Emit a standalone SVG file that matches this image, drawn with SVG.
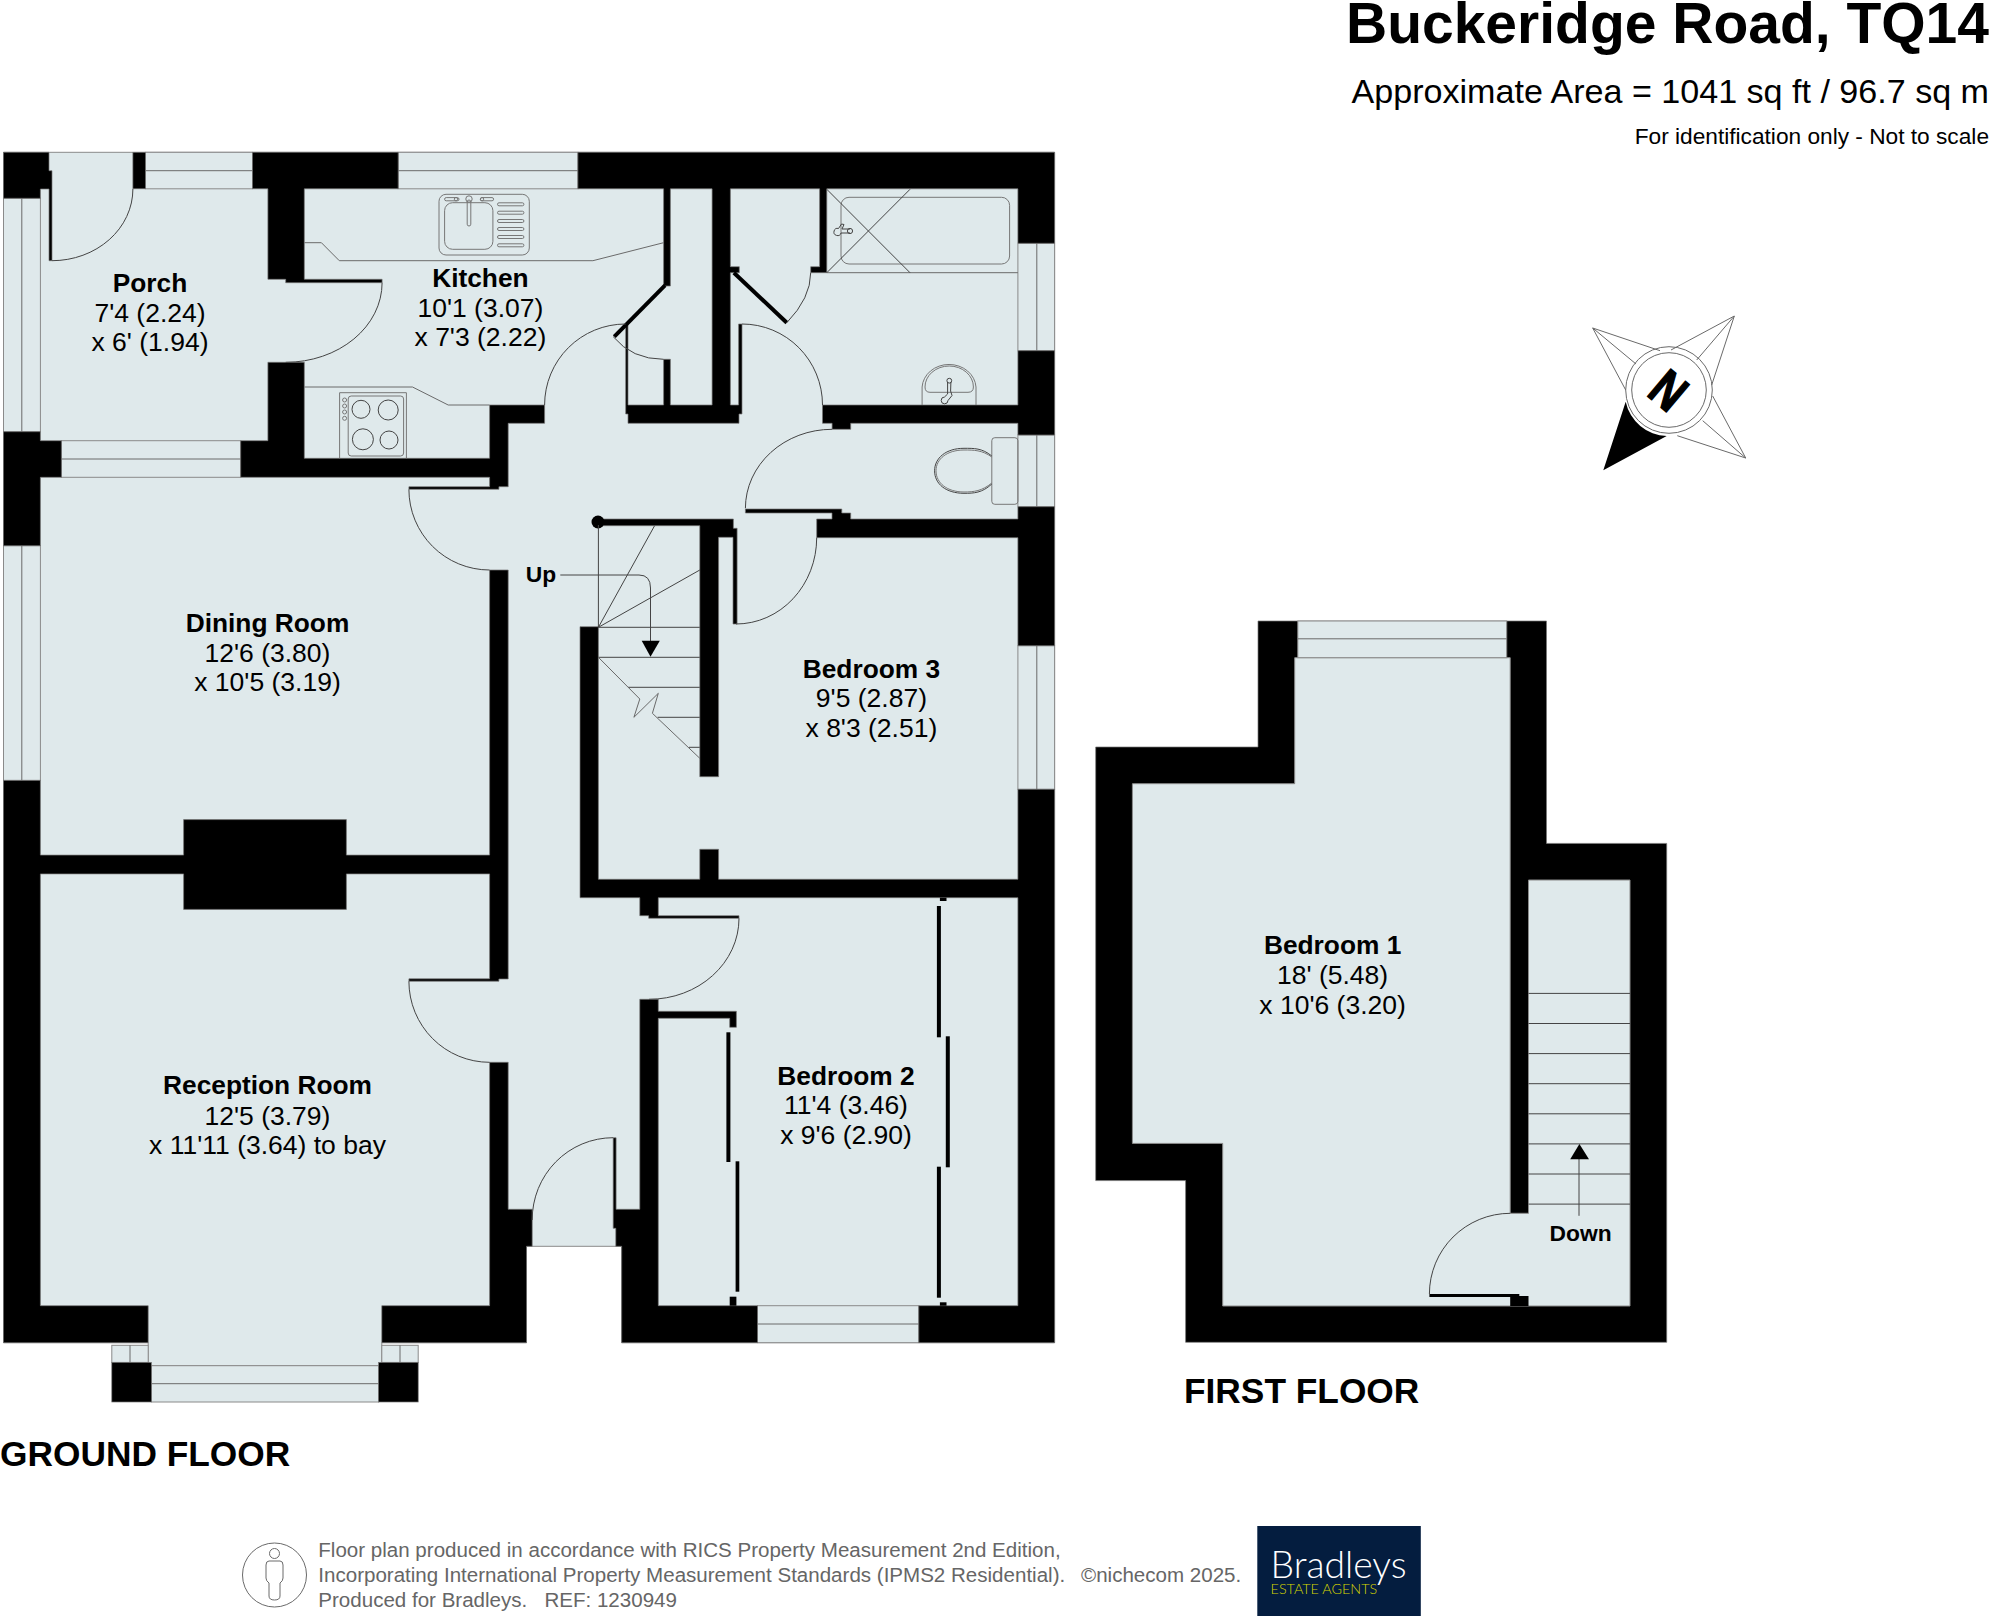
<svg xmlns="http://www.w3.org/2000/svg" width="1990" height="1617" viewBox="0 0 1990 1617">
<style>
text{font-family:"Liberation Sans",Arial,sans-serif;fill:#000;white-space:pre}
.n{font-size:26.3px;font-weight:700;text-anchor:middle}
.d{font-size:26.5px;text-anchor:middle}
.s{font-size:22.8px;font-weight:700;text-anchor:middle}
.h{font-size:35.3px;font-weight:700}
.f{font-size:20.55px;fill:#666}
.fl{fill:#dfe9eb;stroke:#8a8a8a;stroke-width:1}
.w{fill:#000;stroke:#777;stroke-width:.7}
.k{fill:#000}
.win{fill:#dfe9eb;stroke:#8a8a8a;stroke-width:1}
.l{fill:none;stroke:#6a6a6a;stroke-width:1}
.t{fill:none;stroke:#444;stroke-width:1}
.lv{fill:none;stroke:#000;stroke-width:4}
.c1{stroke:#555;stroke-width:4.4;stroke-linecap:round;fill:none}
.c2{stroke:#dfe9eb;stroke-width:2.6;stroke-linecap:round;fill:none}
.cp{fill:none;stroke:#777;stroke-width:1}
</style>

<g id="ground-floor">
<path class="fl" d="M3.5 152.3H1054.6V1342.7H621.7V1246.3H526.5V1342.7H381.8V1365.7H148.2V1342.7H3.5Z"/>

<g id="windows-ground">
<rect class="win" x="145.4" y="152.3" width="107.1" height="36.5"/><path class="l" d="M145.4 170.7H252.5"/>
<rect class="win" x="398.2" y="152.3" width="179.7" height="36.5"/><path class="l" d="M398.2 170.7H577.9"/>
<rect class="win" x="3.5" y="198.3" width="36.9" height="233.4"/><path class="l" d="M21.8 198.3V431.7"/>
<rect class="win" x="61.4" y="440.7" width="179.3" height="36.6"/><path class="l" d="M61.4 459H240.7"/>
<rect class="win" x="3.5" y="545.7" width="36.9" height="234.7"/><path class="l" d="M21.8 545.7V780.4"/>
<rect class="win" x="1017.9" y="243.3" width="36.7" height="107.4"/><path class="l" d="M1036.8 243.3V350.7"/>
<rect class="win" x="1017.9" y="435" width="36.7" height="71.7"/><path class="l" d="M1036.8 435V506.7"/>
<rect class="win" x="1017.9" y="645.7" width="36.7" height="143.6"/><path class="l" d="M1036.8 645.7V789.3"/>
<rect class="win" x="757.5" y="1305.7" width="161.3" height="37"/><path class="l" d="M757.5 1324H918.8"/>
<rect class="win" x="151.4" y="1365.7" width="227.2" height="36.3"/><path class="l" d="M151.4 1383.7H378.6"/>
<rect class="win" x="111.8" y="1345.3" width="36.4" height="17.1"/><path class="l" d="M130 1345.3V1362.4"/>
<rect class="win" x="381.8" y="1345.3" width="36.4" height="17.1"/><path class="l" d="M400 1345.3V1362.4"/>
</g>

<g id="walls-ground">
<path class="w" d="M3.5 152.3H49V170.7H52V260.7H49V189H40.4V198.3H3.5Z"/>
<rect class="w" x="132.9" y="152.3" width="12.5" height="36.5"/>
<path class="w" d="M252.5 152.3H398.2V188.8H304.3V279.3H382.1V282.7H285.7V279.3H267.9V188.8H252.5Z"/>
<path class="w" d="M267.9 362.3H304.3V458.3H489.6V405H544.6V423.3H508.2V486.7H498.9V489.3H408.9V486.7H489.6V477.3H240.7V440.7H267.9Z"/>
<path class="w" d="M577.9 152.3H1054.6V243.3H1017.9V188.8H826.8V272.7H810.7V266.7H819.6V188.8H730.4V266.7H739.3V272.7H730.4V405H738.6V324H742V414H739V423.3H628V414H625.7V324H628V405H663.6V359.3H670.4V405H712.1V188.8H670.4V286H663.6V188.8H577.9Z"/>
<path class="w" d="M822.5 405H1017.9V350.7H1054.6V435H1017.9V423.3H850.7V429.3H832.1V423.3H822.5Z"/>
<path class="w" d="M745.4 509H841.8V513H850.7V519H1017.9V506.7H1054.6V645.7H1017.9V537.7H816.7V519H832V513H745.4Z"/>
<path class="w" d="M598 519H733.4V528.3H737.1V624H733V537.3H718.6V776.7H699.8V525.7H598Z"/>
<circle class="k" cx="598" cy="522" r="6.5"/>
<path class="w" d="M1017.9 789.3H1054.6V1342.7H918.8V1305.7H1017.9V897.7H658.3V915.7H739V918.3H648.7V915.7H639.8V897.7H580V626.7H598.4V879.3H699.8V849.3H718.6V879.3H1017.9Z"/>
<path class="w" d="M639.8 999.3H658.3V1011.3H736.4V1027.3H729.7V1018.3H658.3V1305.7H757.5V1342.7H621.7V1246.3H615.8V1228.3H613.2V1137.7H616.1V1209.3H639.8Z"/>
<path class="w" d="M3.5 431.7H40.4V440.7H61.4V477.3H40.4V545.7H3.5Z"/>
<path class="w" d="M3.5 780.4H40.4V855.1H183.6V819.6H346.4V855.1H489.6V570H508.2V979H498.9V981.2H408.9V978.8H489.6V873.9H346.4V909.4H183.6V873.9H40.4V1305.7H148.2V1342.7H3.5Z"/>
<path class="w" d="M489.6 1062.3H508.2V1209.3H532.2V1246.3H526.5V1342.7H381.8V1305.7H489.6Z"/>
<rect class="w" x="111.8" y="1362.4" width="39.6" height="39.6"/>
<rect class="w" x="378.6" y="1362.4" width="39.6" height="39.6"/>
<rect class="k" x="729.7" y="1296.7" width="6.7" height="9"/>
<rect class="k" x="939.9" y="1302.3" width="6.6" height="3.4"/>
<rect class="k" x="939.9" y="897.7" width="6.6" height="3.3"/>
<rect class="k" x="726.4" y="1032.3" width="4" height="129.7"/>
<rect class="k" x="735.6" y="1161.3" width="3.7" height="130.4"/>
<rect class="k" x="936.9" y="906" width="4" height="131.3"/>
<rect class="k" x="945.8" y="1036.3" width="4" height="131"/>
<rect class="k" x="936.9" y="1166.7" width="4" height="131"/>
<path class="lv" d="M665 285.3L614.3 336.7"/>
<path class="lv" d="M733.9 272.7L786.8 322.7"/>
</g>

<g id="door-swings-ground">
<path class="t" d="M132.9 189A80.9 71.7 0 0 1 52 260.7"/>
<path class="t" d="M382.1 282.7A96.4 79.6 0 0 1 285.7 362.3"/>
<path class="t" d="M408.9 489.3A80.7 80.7 0 0 0 489.6 570"/>
<path class="t" d="M544.6 405A81 81 0 0 1 625.7 324"/>
<path class="t" d="M613.2 336.7Q632 359.3 663.6 359.3"/>
<path class="t" d="M786.8 322.7Q810.7 298 810.7 272.7"/>
<path class="t" d="M742 324A80.5 81 0 0 1 822.5 405"/>
<path class="t" d="M832.1 429.3A86.7 79 0 0 0 745.4 508.3"/>
<path class="t" d="M816.7 537.7A80.7 86.3 0 0 1 736 624"/>
<path class="t" d="M408.9 981.2A80.7 81.1 0 0 0 489.6 1062.3"/>
<path class="t" d="M739 918.3A90 81 0 0 1 649 999.3"/>
<path class="t" d="M613.2 1137.7A81 82 0 0 0 532.2 1220"/>
</g>

<g id="kitchen-fittings">
<path class="l" d="M304.3 242.7H321.4L339.3 260.7H592.9L663.6 242.7"/>
<path class="l" d="M304.3 387H412.5L448.2 405H489.6"/>
<rect class="cp" x="439" y="194.3" width="90.3" height="60.7" rx="7"/>
<rect class="cp" x="444.6" y="202.7" width="48.3" height="46.6" rx="8"/>
<g class="cp">
<rect x="497.5" y="202.8" width="26.4" height="3" rx="1.5"/><rect x="497.5" y="211.2" width="26.4" height="3" rx="1.5"/><rect x="497.5" y="219.5" width="26.4" height="3" rx="1.5"/><rect x="497.5" y="227.5" width="26.4" height="3" rx="1.5"/><rect x="497.5" y="235.5" width="26.4" height="3" rx="1.5"/><rect x="497.5" y="243.8" width="26.4" height="3" rx="1.5"/>
<rect x="467.2" y="200" width="3.6" height="26" rx="1.8"/><circle cx="469" cy="199" r="3.2"/>
<rect x="444.6" y="197.6" width="14.4" height="3.2" rx="1.6"/><rect x="480.4" y="197.6" width="13.2" height="3.2" rx="1.6"/>
<circle cx="456" cy="199.2" r="1.7"/><circle cx="482" cy="199.2" r="1.7"/>
</g>
<path class="cp" d="M339.6 458.3V392.7H406.4V458.3"/>
<rect class="cp" x="348.2" y="396" width="55.4" height="60" rx="3"/>
<circle class="t" cx="361" cy="409.3" r="9"/><circle class="t" cx="388.2" cy="410" r="10"/><circle class="t" cx="362.9" cy="439.3" r="10.5"/><circle class="t" cx="389" cy="440" r="9"/>
<g class="cp"><circle cx="344.6" cy="400" r="2"/><circle cx="344.6" cy="406" r="2"/><circle cx="344.6" cy="412" r="2"/><circle cx="344.6" cy="418.3" r="2"/></g>
</g>

<g id="bathroom-fittings">
<path class="l" d="M826.8 272.7H1017.9"/>
<rect class="cp" x="841" y="197.3" width="168.6" height="66.7" rx="8"/>
<path class="t" d="M826.8 189.3L910 272.7M910 189.3L826.8 272.7"/>
<path class="t" d="M850 229H842L844 224.5L841.5 224L838.5 228.5A3.6 3.6 0 1 0 841 233H850"/>
<circle class="t" cx="850" cy="231" r="2.6"/>
<path class="cp" d="M922.1 405V387A27 24 0 0 1 976 387V405"/>
<path class="cp" d="M925 387A24.2 21 0 0 1 973.4 387Q973.4 392.3 968 392.3H930Q925 392.3 925 387Z"/>
<circle class="t" cx="949.3" cy="380.7" r="2.4"/>
<path class="t" d="M947.6 382V394L944.5 397A3.4 3.4 0 1 0 948 400.5L952 395.5L950.6 391L950.9 382"/>
<rect class="cp" x="991.8" y="437.7" width="26.1" height="66.6" rx="3"/>
<path class="t" d="M991.8 456C982 448 974 448.3 964 448.3C946 448.3 934.6 458 934.6 470.8C934.6 484 946 493.3 964 493.3C974 493.3 982 493 991.8 484"/>
<path class="cp" d="M991.8 457C982 450 974 450 964 450C947 450 936 459 936 470.8C936 483 947 492 964 492C974 492 982 491 991.8 483"/>
</g>

<g id="stairs-ground">
<path class="t" d="M598.4 525V627.3M598.4 627.3H699.8M598.4 657.3H699.8M628 687.3H699.8M657.6 717.3H699.8M689 747.3H699.8"/>
<path class="t" d="M598.4 627.3L654.6 525.7M598.4 627.3L699.8 570"/>
<path class="l" d="M598.4 657.3L639.8 699L633.9 717.3L658.3 693.3L652.4 713.3L699.8 758.3"/>
<path class="t" d="M560.3 575H639Q650.5 575 650.5 588V643"/>
<path class="k" d="M641.7 640.7H659.8L650.5 656.7Z"/>
</g>
</g>

<g id="first-floor">
<path class="w" d="M1258 621H1546.5V843.4H1666.7V1342.3H1185.6V1180.6H1095.7V747H1258Z"/>
<path class="fl" d="M1294.7 657.7H1510.2V1213.3H1528.5V880H1630V1306H1222.7V1143.4H1132.4V783.7H1294.7Z"/>
<path class="k" d="M1429.4 1293.9H1519.3V1296H1528.5V1306H1510.2V1297H1429.4Z"/>
<rect class="win" x="1297.8" y="621" width="208.9" height="36.7"/><path class="l" d="M1297.8 638.8H1506.7"/>
<path class="t" d="M1429.4 1294A81 80.7 0 0 1 1510.2 1213.3"/>
<path class="t" d="M1528.5 993.4H1630M1528.5 1023.5H1630M1528.5 1053.6H1630M1528.5 1083.7H1630M1528.5 1113.8H1630M1528.5 1143.9H1630M1528.5 1174H1630M1528.5 1204.1H1630"/>
<path class="t" d="M1579 1215.8V1158"/>
<path class="k" d="M1570.2 1159.2H1589L1579.4 1143.9Z"/>
</g>

<g id="compass">
<path class="l" d="M1660 350.7L1592.7 328L1625.7 390M1592.7 328L1636 364"/>
<path class="l" d="M1671 350L1734.3 316L1711.7 385M1734.3 316L1696.7 360"/>
<path class="l" d="M1712.7 396L1745.7 458L1677.3 435.7M1745.7 458L1702.7 420.7"/>
<path class="k" d="M1603.3 470.3L1625.7 401.7A43.3 43.3 0 0 0 1666.7 436Z"/>
<circle class="l" cx="1669" cy="390" r="43.3"/>
<circle class="l" cx="1669" cy="390" r="37.3"/>
<text transform="translate(1669 390) rotate(40) scale(.8 1)" x="0" y="18.5" font-size="52" font-weight="700" text-anchor="middle" stroke="#000" stroke-width="1.6">N</text>
</g>

<g id="labels">
<text x="1989" y="43" font-size="57" font-weight="700" text-anchor="end">Buckeridge Road, TQ14</text>
<text x="1989" y="103.3" font-size="34.1" text-anchor="end">Approximate Area = 1041 sq ft / 96.7 sq m</text>
<text x="1989" y="144" font-size="22.7" text-anchor="end">For identification only - Not to scale</text>

<g id="porch"><text class="n" x="150" y="291.7">Porch</text><text class="d" x="150" y="321.7">7'4 (2.24)</text><text class="d" x="150" y="351">x 6' (1.94)</text></g>
<g id="kitchen"><text class="n" x="480.4" y="286.7">Kitchen</text><text class="d" x="480.4" y="316.7">10'1 (3.07)</text><text class="d" x="480.4" y="346">x 7'3 (2.22)</text></g>
<g id="dining"><text class="n" x="267.5" y="632">Dining Room</text><text class="d" x="267.5" y="661.5">12'6 (3.80)</text><text class="d" x="267.5" y="691">x 10'5 (3.19)</text></g>
<g id="reception"><text class="n" x="267.5" y="1093.5">Reception Room</text><text class="d" x="267.5" y="1124.5">12'5 (3.79)</text><text class="d" x="267.5" y="1153.5">x 11'11 (3.64) to bay</text></g>
<g id="bedroom3"><text class="n" x="871.4" y="678">Bedroom 3</text><text class="d" x="871.4" y="707.3">9'5 (2.87)</text><text class="d" x="871.4" y="737.3">x 8'3 (2.51)</text></g>
<g id="bedroom2"><text class="n" x="846" y="1085">Bedroom 2</text><text class="d" x="846" y="1114">11'4 (3.46)</text><text class="d" x="846" y="1144">x 9'6 (2.90)</text></g>
<g id="bedroom1"><text class="n" x="1332.6" y="953.6">Bedroom 1</text><text class="d" x="1332.6" y="984">18' (5.48)</text><text class="d" x="1332.6" y="1013.8">x 10'6 (3.20)</text></g>
<text class="s" x="541" y="582">Up</text>
<text class="s" x="1580.6" y="1241.3">Down</text>
<text class="h" x="0" y="1466">GROUND FLOOR</text>
<text class="h" x="1184" y="1402.5">FIRST FLOOR</text>
</g>

<g id="footer">
<circle class="l" cx="274.5" cy="1575" r="32"/>
<circle class="l" cx="274.5" cy="1553.5" r="5"/>
<path class="l" d="M269 1561H280Q283 1561 283 1565V1578Q283 1581 280 1583V1596Q280 1600 274.5 1600Q269 1600 269 1596V1583Q266 1581 266 1578V1565Q266 1561 269 1561Z"/>
<text class="f" x="318.3" y="1556.7">Floor plan produced in accordance with RICS Property Measurement 2nd Edition,</text>
<text class="f" x="318.3" y="1581.7">Incorporating International Property Measurement Standards (IPMS2 Residential).</text>
<text class="f" x="1081" y="1581.7">©nichecom 2025.</text>
<text class="f" x="318.3" y="1606.7">Produced for Bradleys.   REF: 1230949</text>
<rect x="1257.3" y="1526" width="163.5" height="90" fill="#041d3f"/>
<text x="1270.6" y="1578" font-size="38" font-weight="300" textLength="136" lengthAdjust="spacingAndGlyphs" style="font-family:Lato,'Liberation Sans',sans-serif;fill:#fff">Bradleys</text>
<text x="1270.6" y="1594" font-size="14" font-weight="300" textLength="106.5" lengthAdjust="spacingAndGlyphs" style="font-family:Lato,'Liberation Sans',sans-serif;fill:#d6d600">ESTATE AGENTS</text>
</g>
</svg>
